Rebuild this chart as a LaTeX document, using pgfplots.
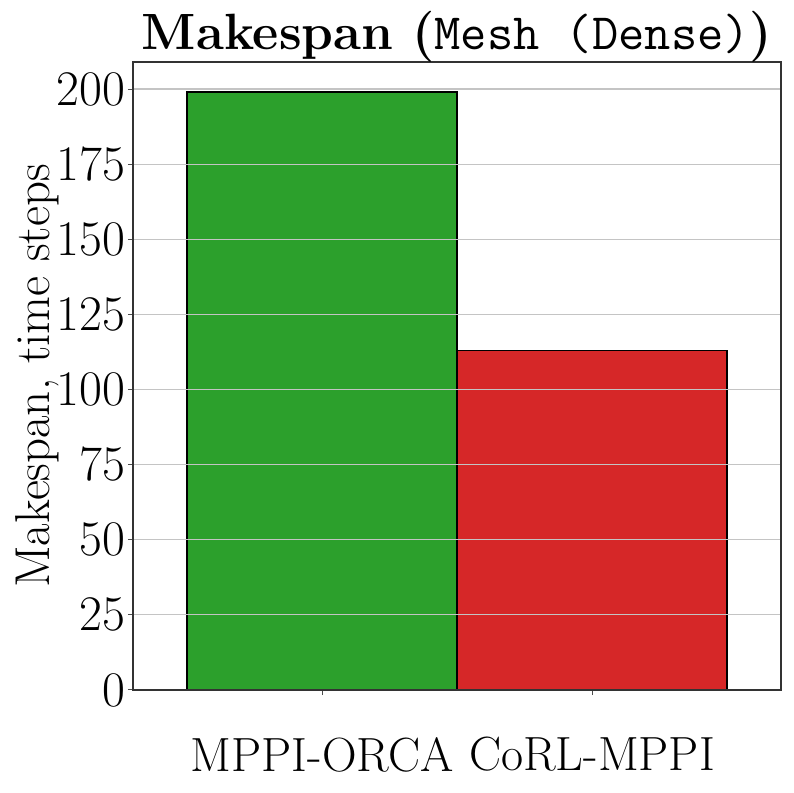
\documentclass[border=0pt]{standalone}
\usepackage{pgfplots}
\pgfplotsset{compat=1.18}
\definecolor{tabgreen}{HTML}{2CA02C}
\definecolor{tabred}{HTML}{D62728}
\definecolor{gridgray}{HTML}{C4C4C4}
\begin{document}
\begin{tikzpicture}
% page frame: 793px <-> 396.5pt
\path[use as bounding box] (0,0) rectangle (396.5pt,396.5pt);
\begin{axis}[
    at={(66.5pt,51.5pt)}, anchor=south west,
    scale only axis, width=324pt, height=314pt,
    xmin=-0.7, xmax=1.7, ymin=0, ymax=209,
    xtick={0,1}, xticklabels={MPPI-ORCA, CoRL-MPPI},
    ytick={0,25,...,200},
    tick pos=left, tick align=outside,
    major tick length=2.5pt,
    tick style={black!70, line width=0.5pt},
    ymajorgrids, grid style={gridgray, line width=0.6pt},
    axis on top,
    axis line style={black!80, line width=0.6pt},
    tick label style={font=\fontsize{24}{28}\selectfont},
    xticklabel style={yshift=-17.5pt},
    yticklabel style={xshift=2pt},
    ylabel={Makespan, time steps},
    ylabel style={font=\fontsize{24.5}{28}\selectfont, at={(axis description cs:-0.148,0.5)}, anchor=center},
    title={\textbf{Makespan (}\texttt{Mesh (Dense)}\textbf{)}},
    every axis title/.style={at={(axis description cs:0.5,1)}, anchor=base, yshift=6pt,
        font=\fontsize{25.5}{30}\selectfont},
]
\addplot[ybar, bar width=1, bar shift=0pt, fill=tabgreen, draw=black, line width=0.9pt] coordinates {(0,199)};
\addplot[ybar, bar width=1, bar shift=0pt, fill=tabred, draw=black, line width=0.9pt] coordinates {(1,113)};
\end{axis}
\end{tikzpicture}
\end{document}
